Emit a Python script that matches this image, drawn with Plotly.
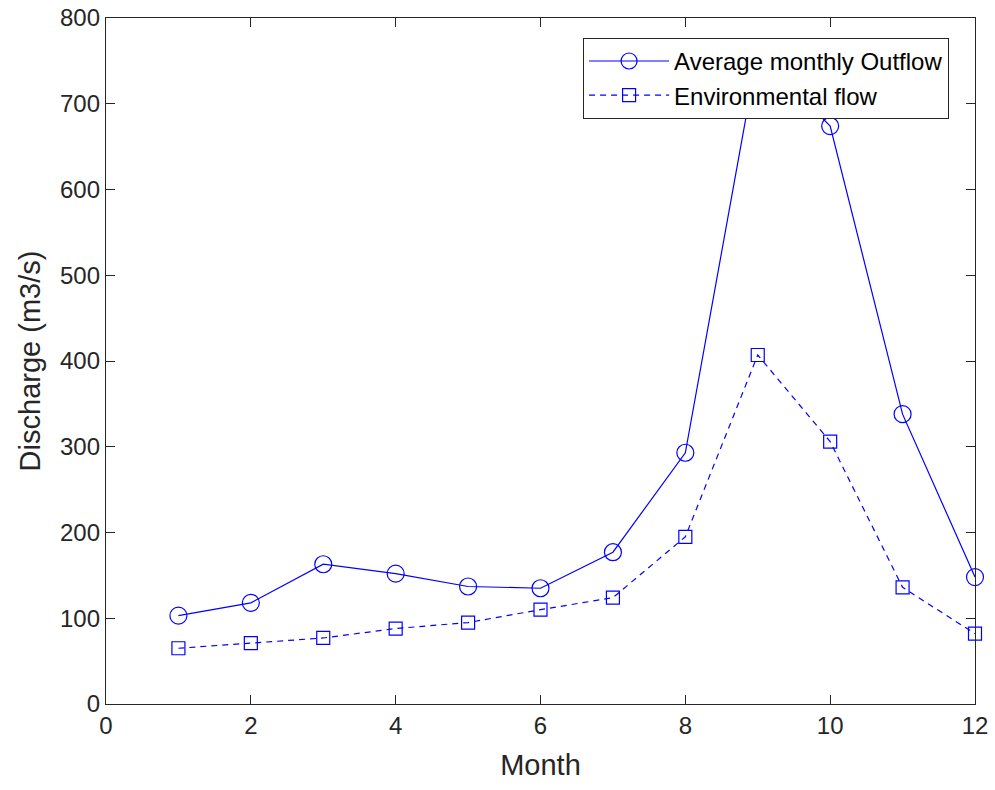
import plotly.graph_objects as go

months = [1, 2, 3, 4, 5, 6, 7, 8, 9, 10, 11, 12]
outflow = [103, 118, 163, 152, 137, 135, 177, 293, 760, 674, 338, 148]
env_flow = [65, 71, 77, 88, 95, 110, 124, 195, 407, 306, 136, 82]

blue = "#0000FF"
axcol = "#262626"
font = "Liberation Sans, Arial, sans-serif"

fig = go.Figure()
fig.add_trace(go.Scatter(
    x=months, y=outflow, mode="lines+markers", name="Average monthly Outflow",
    line=dict(color=blue, width=1.2),
    marker=dict(symbol="circle-open", size=17, color=blue, line=dict(width=1.2)),
    cliponaxis=False,
))
fig.add_trace(go.Scatter(
    x=months, y=env_flow, mode="lines+markers", name="Environmental flow",
    line=dict(color=blue, width=1.2, dash="6px,5px"),
    marker=dict(symbol="square-open", size=13, color=blue, line=dict(width=1.2)),
    cliponaxis=False,
))

axis_common = dict(
    showgrid=False, zeroline=False, showline=True, linecolor=axcol, linewidth=1.3,
    mirror="ticks", ticks="inside", ticklen=9, tickcolor=axcol, tickwidth=1,
    tickfont=dict(family=font, size=24, color=axcol), automargin=False,
)
fig.update_xaxes(range=[0, 12], dtick=2, tick0=0,
                 title=dict(text="Month", font=dict(family=font, size=29, color=axcol), standoff=16),
                 **axis_common)
fig.update_yaxes(range=[0, 800], dtick=100, tick0=0,
                 title=dict(text="Discharge (m3/s)", font=dict(family=font, size=29, color=axcol), standoff=10),
                 **axis_common)

fig.update_layout(
    width=995, height=790,
    margin=dict(l=106, r=20, t=18, b=86),
    plot_bgcolor="white", paper_bgcolor="white",
    legend=dict(x=0.549, y=0.971, xanchor="left", yanchor="top",
                bgcolor="white", bordercolor=axcol, borderwidth=1,
                font=dict(family=font, size=24, color="black"),
                tracegroupgap=0, itemwidth=80),
    showlegend=True,
)

fig.write_html("out.html")
